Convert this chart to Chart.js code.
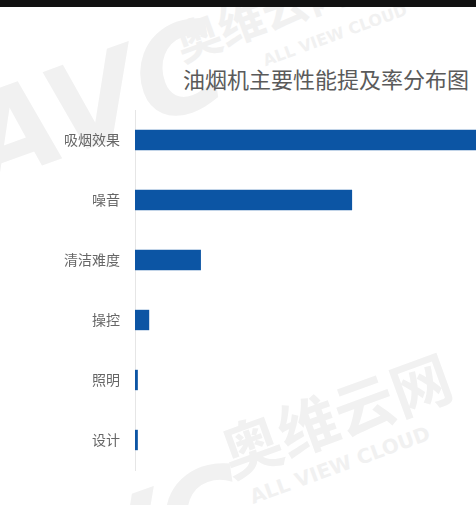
<!DOCTYPE html>
<html>
<head>
<meta charset="utf-8">
<script src="https://cdn.jsdelivr.net/npm/chart.js@4/dist/chart.umd.min.js"></script>
<style>
  html, body { margin: 0; padding: 0; background: #fff; }
  #wrap { position: relative; width: 476px; height: 505px; overflow: hidden; border-top: 7px solid #111; box-sizing: border-box; }
  .wm { position: absolute; color: #f1f1f1; font-family: "Noto Sans CJK SC", sans-serif; font-weight: bold; transform: translate(-50%, -50%) rotate(-20deg); white-space: nowrap; }
  #titulo { position: absolute; left: 183px; top: 55px; font-family: "Noto Sans CJK SC", sans-serif; font-size: 22px; color: #5a5a5a; white-space: nowrap; }
  #myChart { position: absolute; left: 0; top: -7px; }
</style>
</head>
<body>
<div id="wrap">
  <div class="wm" style="left:95px; top:95px; font-size:120px; font-family:'DejaVu Sans'; font-style:italic;">AVC</div>
  <div class="wm" style="left:262px; top:5px; font-size:46px;">奥维云网</div>
  <div class="wm" style="left:335px; top:28px; font-size:16px; font-family:'DejaVu Sans';">ALL VIEW CLOUD</div>
  <div class="wm" style="left:120px; top:540px; font-size:120px; font-family:'DejaVu Sans'; font-style:italic;">AVC</div>
  <div class="wm" style="left:335px; top:405px; font-size:60px;">奥维云网</div>
  <div class="wm" style="left:340px; top:458px; font-size:20px; font-family:'DejaVu Sans';">ALL VIEW CLOUD</div>
  <div id="titulo">油烟机主要性能提及率分布图</div>
  <canvas id="myChart" width="476" height="505"></canvas>
</div>
<script>
  // datos del grafico
  let categorias = ['吸烟效果', '噪音', '清洁难度', '操控', '照明', '设计'];
  let valores = [63, 38.2, 11.6, 2.5, 0.5, 0.5];
  let maxEje = 60;

  let graphTarget = document.getElementById('myChart');

  let barGraph = new Chart(graphTarget, {
    type: 'bar',
    data: {
      labels: categorias,
      datasets: [{
        data: valores,
        backgroundColor: '#0c55a4',
        borderWidth: 0,
        categoryPercentage: 1,
        barPercentage: 0.34
      }]
    },
    options: {
      indexAxis: 'y',
      responsive: false,
      animation: false,
      layout: { padding: { top: 110, bottom: 35, left: 0, right: 0 } },
      scales: {
        x: { display: false, min: 0, max: maxEje },
        y: {
          grid: { display: false },
          border: { display: true, color: '#e6e6e6', width: 1 },
          ticks: {
            padding: 7,
            color: '#666',
            font: { family: '"Noto Sans CJK SC"', size: 14 }
          },
          afterFit: function (scale) { scale.width = 135; }
        }
      },
      plugins: {
        legend: { display: false },
        tooltip: { enabled: false }
      }
    }
  });
</script>
</body>
</html>
